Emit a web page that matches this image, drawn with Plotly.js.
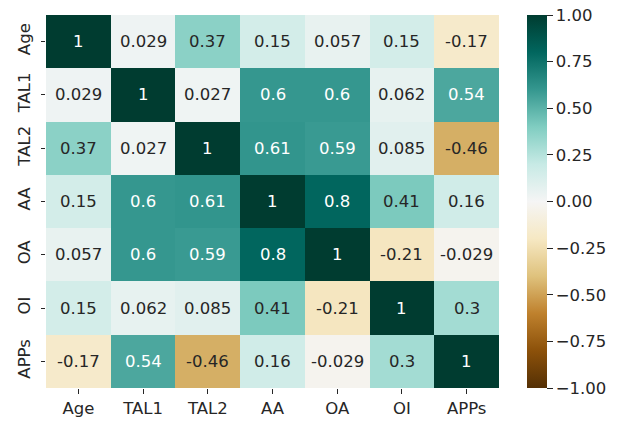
<!DOCTYPE html>
<html>
<head>
<meta charset="utf-8">
<script src="https://cdn.plot.ly/plotly-3.0.1.min.js"></script>
<style>html,body{margin:0;padding:0;background:#fff;}</style>
</head>
<body>
<div id="chart" style="width:618px;height:424px;"></div>
<script>
var labels = ["Age", "TAL1", "TAL2", "AA", "OA", "OI", "APPs"];
var rowAge  = [1, 0.029, 0.37, 0.15, 0.057, 0.15, -0.17];
var rowTAL1 = [0.029, 1, 0.027, 0.6, 0.6, 0.062, 0.54];
var rowTAL2 = [0.37, 0.027, 1, 0.61, 0.59, 0.085, -0.46];
var rowAA   = [0.15, 0.6, 0.61, 1, 0.8, 0.41, 0.16];
var rowOA   = [0.057, 0.6, 0.59, 0.8, 1, -0.21, -0.029];
var rowOI   = [0.15, 0.062, 0.085, 0.41, -0.21, 1, 0.3];
var rowAPPs = [-0.17, 0.54, -0.46, 0.16, -0.029, 0.3, 1];
var cbTicks = [-1, -0.75, -0.5, -0.25, 0, 0.25, 0.5, 0.75, 1];

var z = [rowAge, rowTAL1, rowTAL2, rowAA, rowOA, rowOI, rowAPPs];

var brbg = [
  [0.0, '#543005'], [0.1, '#8c510a'], [0.2, '#bf812d'], [0.3, '#dfc27d'],
  [0.4, '#f6e8c3'], [0.5, '#f5f5f5'], [0.6, '#c7eae5'], [0.7, '#80cdc1'],
  [0.8, '#35978f'], [0.9, '#01665e'], [1.0, '#003c30']
];

var FS = 16.5;
var annotations = [];
for (var i = 0; i < labels.length; i++) {
  for (var j = 0; j < labels.length; j++) {
    var v = z[i][j];
    annotations.push({
      x: labels[j], y: labels[i], xref: 'x', yref: 'y',
      text: String(v), showarrow: false,
      font: {family: 'DejaVu Sans', size: FS, color: (v > 0.5 ? '#ffffff' : '#262626')}
    });
  }
}

var trace = {
  type: 'heatmap',
  x: labels, y: labels, z: z,
  zmin: -1, zmax: 1,
  colorscale: brbg,
  xgap: 0, ygap: 0,
  colorbar: {
    x: 1.061, xanchor: 'left', xref: 'paper',
    y: 0.5, yanchor: 'middle', len: 1, lenmode: 'fraction',
    thickness: 20, thicknessmode: 'pixels',
    outlinewidth: 0,
    ticks: 'outside', ticklen: 6, tickwidth: 1, tickcolor: '#262626',
    tickmode: 'array', tickvals: cbTicks,
    tickformat: '.2f',
    tickfont: {family: 'DejaVu Sans', size: FS, color: '#262626'},
    xpad: 0, ypad: 0
  }
};

var layout = {
  width: 618, height: 424,
  margin: {l: 46, r: 113, t: 15, b: 36},
  paper_bgcolor: '#ffffff', plot_bgcolor: '#ffffff',
  font: {family: 'DejaVu Sans', size: FS, color: '#262626'},
  xaxis: {
    type: 'category', showgrid: false, zeroline: false, showline: false,
    ticks: 'outside', ticklen: 5, tickwidth: 1, tickcolor: '#262626',
    tickfont: {family: 'DejaVu Sans', size: FS, color: '#262626'}
  },
  yaxis: {
    type: 'category', autorange: 'reversed', showgrid: false, zeroline: false, showline: false,
    ticks: 'outside', ticklen: 4, tickwidth: 1, tickcolor: '#262626',
    tickangle: -90, ticklabelstandoff: 4,
    tickfont: {family: 'DejaVu Sans', size: FS, color: '#262626'}
  },
  annotations: annotations
};

Plotly.newPlot('chart', [trace], layout, {displayModeBar: false, staticPlot: true});
</script>
</body>
</html>
